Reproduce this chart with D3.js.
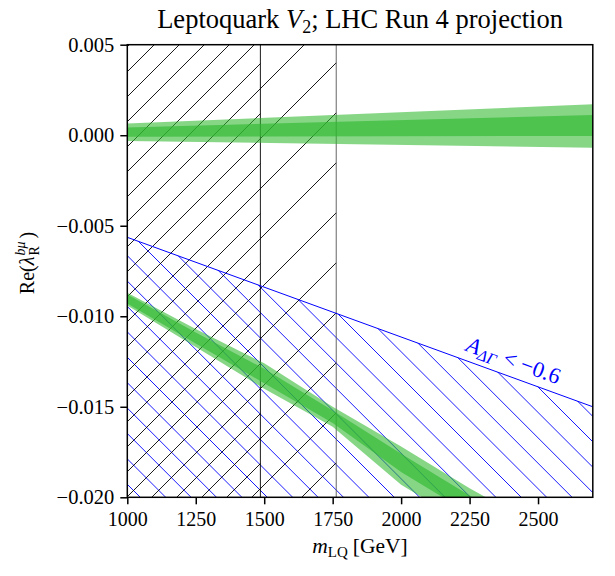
<!DOCTYPE html>
<html lang="en">

<head>
  <meta charset="utf-8">
  <title>Leptoquark V2; LHC Run 4 projection</title>

  <!-- D3 -->
  <script src="https://cdn.jsdelivr.net/npm/d3@7"></script>

  <style>
    body { margin: 0; background: #fff; }
    svg text { font-family: "Liberation Serif", "DejaVu Serif", serif; fill: #000; }
  </style>
</head>

<body>

  <!-- Chart -->
  <svg id="chart" width="615" height="576"></svg>

  <script>
    // axis ticks
    const xTicks = [1000, 1250, 1500, 1750, 2000, 2250, 2500];
    const yTicks = [0.005, 0.000, -0.005, -0.010, -0.015, -0.020];

    // direct search limits on m_LQ (hatched, black)
    const searchLimits = [1763, 1486];

    // A_DeltaGamma < -0.6 boundary (hatched below, blue)
    const adgMass = [1000, 2700];
    const adgBound = [-0.00564, -0.0150];

    // upper green band (near zero)
    const upMass = [1000, 2700];
    const upOuterHi = [0.00065, 0.00171];
    const upOuterLo = [-0.00032, -0.00069];
    const upInnerHi = [0.00043, 0.00112];
    const upInnerLo = [-0.00008, -0.00004];

    // lower green band
    const loMass = [1000, 1250, 1500, 1750, 2000, 2250, 2500];
    const loOuterHi = [-0.0087, -0.0107, -0.0126, -0.0150, -0.0172, -0.0195, -0.0216];
    const loOuterLo = [-0.0094, -0.0117, -0.0140, -0.0161, -0.0193, -0.0216, -0.0240];
    const loInnerHi = [-0.0088, -0.0109, -0.0129, -0.0152, -0.0176, -0.0199, -0.0221];
    const loInnerLo = [-0.0093, -0.0115, -0.0137, -0.0159, -0.0186, -0.0209, -0.0232];

    const margin = { left: 127.3, top: 44.7, right: 22.2, bottom: 78.7 };
    const width = 615 - margin.left - margin.right;
    const height = 576 - margin.top - margin.bottom;

    const svg = d3.select("#chart");

    const x = d3.scaleLinear().domain([1000, 2700]).range([0, width]);
    const y = d3.scaleLinear().domain([-0.020, 0.005]).range([height, 0]);

    const g = svg.append("g")
      .attr("transform", "translate(" + margin.left + "," + margin.top + ")");

    // clip paths
    const defs = svg.append("defs");
    defs.append("clipPath").attr("id", "clip-plot")
      .append("rect").attr("width", width).attr("height", height);
    searchLimits.forEach(function (m, i) {
      defs.append("clipPath").attr("id", "clip-search-" + i)
        .append("rect").attr("width", x(m)).attr("height", height);
    });
    defs.append("clipPath").attr("id", "clip-adg")
      .append("path")
      .attr("d", d3.area()
        .x(function (d, i) { return x(adgMass[i]); })
        .y0(height)
        .y1(function (d) { return y(d); })(adgBound));

    const plot = g.append("g").attr("clip-path", "url(#clip-plot)");

    // hatch lines "/" (u + v = c) and "\" (u - v = c)
    function hatch(sel, dir, step, offset, color) {
      const lines = [];
      const lo = dir > 0 ? 0 : -height;
      const hi = dir > 0 ? width + height : width;
      for (let c = offset + Math.floor((lo - offset) / step) * step; c <= hi + step; c += step) {
        lines.push(c);
      }
      sel.selectAll("line")
        .data(lines)
        .join("line")
        .attr("x1", function (c) { return c; })
        .attr("y1", 0)
        .attr("x2", function (c) { return dir > 0 ? c - height : c + height; })
        .attr("y2", height)
        .attr("stroke", color)
        .attr("stroke-width", 0.9);
    }

    // blue hatch below A_DeltaGamma boundary
    hatch(plot.append("g").attr("clip-path", "url(#clip-adg)"), -1, 25.4, 17.6, "#0000ff");

    // black hatch for search limits
    hatch(plot.append("g").attr("clip-path", "url(#clip-search-0)"), 1, 50, 27, "#000");
    hatch(plot.append("g").attr("clip-path", "url(#clip-search-1)"), 1, 50, 2, "#000");

    plot.selectAll(".search-line")
      .data(searchLimits)
      .join("line")
      .attr("class", "search-line")
      .attr("x1", function (d) { return x(d); })
      .attr("x2", function (d) { return x(d); })
      .attr("y1", 0)
      .attr("y2", height)
      .attr("stroke", function (d, i) { return i === 0 ? "#555" : "#000"; })
      .attr("stroke-width", 0.9);

    plot.append("path")
      .attr("d", d3.line()
        .x(function (d, i) { return x(adgMass[i]); })
        .y(function (d) { return y(d); })(adgBound))
      .attr("fill", "none")
      .attr("stroke", "#0000ff")
      .attr("stroke-width", 1);

    // green bands
    function band(mass, lo, hi, opacity) {
      plot.append("path")
        .attr("d", d3.area()
          .x(function (d, i) { return x(mass[i]); })
          .y0(function (d, i) { return y(lo[i]); })
          .y1(function (d) { return y(d); })(hi))
        .attr("fill", "#2fb82f")
        .attr("fill-opacity", opacity);
    }
    band(upMass, upOuterLo, upOuterHi, 0.58);
    band(upMass, upInnerLo, upInnerHi, 0.65);
    band(loMass, loOuterLo, loOuterHi, 0.58);
    band(loMass, loInnerLo, loInnerHi, 0.65);

    // A_DeltaGamma label, sitting above the boundary
    const ang = Math.atan2(y(adgBound[1]) - y(adgBound[0]), x(adgMass[1]) - x(adgMass[0])) * 180 / Math.PI;
    const labM = 2390;
    const labY = adgBound[0] + (adgBound[1] - adgBound[0]) * (labM - adgMass[0]) / (adgMass[1] - adgMass[0]);
    const lab = g.append("text")
      .attr("transform", "translate(" + x(labM) + "," + y(labY) + ") rotate(" + ang + ")")
      .attr("y", -9)
      .attr("text-anchor", "middle")
      .style("font-size", "22.5px")
      .style("fill", "#0000ff");
    lab.append("tspan").style("font-style", "italic").style("fill", "#0000ff").text("A");
    lab.append("tspan").attr("baseline-shift", "-25%").style("font-size", "16px").style("font-style", "italic")
      .style("fill", "#0000ff").text("ΔΓ");
    lab.append("tspan").attr("dx", 7).style("fill", "#0000ff").text("< −0.6");

    // axes
    const xAxis = g.append("g")
      .attr("transform", "translate(0," + height + ")")
      .call(d3.axisBottom(x).tickValues(xTicks).tickSize(7).tickPadding(6).tickFormat(d3.format("d")));
    const yAxis = g.append("g")
      .call(d3.axisLeft(y).tickValues(yTicks).tickSize(7).tickPadding(6)
        .tickFormat(function (d) { return d3.format(".3f")(d).replace("-", "−"); }));

    [xAxis, yAxis].forEach(function (a) {
      a.select(".domain").remove();
      a.selectAll(".tick line").attr("stroke", "#000").attr("stroke-width", 1.5);
      a.selectAll(".tick text").style("font-size", "20px").attr("fill", "#000");
    });
    xAxis.selectAll(".tick text").attr("dy", "0.78em");
    yAxis.selectAll(".tick text").style("font-size", "20.5px");

    g.append("rect")
      .attr("width", width)
      .attr("height", height)
      .attr("fill", "none")
      .attr("stroke", "#000")
      .attr("stroke-width", 1.5);

    // title
    const title = svg.append("text")
      .attr("x", margin.left + width / 2)
      .attr("y", 28)
      .attr("text-anchor", "middle")
      .style("font-size", "26.5px");
    title.append("tspan").text("Leptoquark ");
    title.append("tspan").style("font-style", "italic").text("V");
    title.append("tspan").attr("baseline-shift", "-25%").style("font-size", "18px").text("2");
    title.append("tspan").text("; LHC Run 4 projection");

    // x label
    const xLab = svg.append("text")
      .attr("x", margin.left + width / 2)
      .attr("y", 553)
      .attr("text-anchor", "middle")
      .style("font-size", "21.5px");
    xLab.append("tspan").style("font-style", "italic").text("m");
    xLab.append("tspan").attr("baseline-shift", "-25%").style("font-size", "15px").text("LQ");
    xLab.append("tspan").attr("dx", 5).text("[GeV]");

    // y label, built from pieces in a rotated group
    const yLab = svg.append("g");
    const yBase = yLab.append("text").style("font-size", "20px");
    yBase.append("tspan").text("Re(");
    yBase.append("tspan").style("font-style", "italic").text("λ");
    const w1 = yBase.node().getComputedTextLength();
    const ySup = yLab.append("text")
      .attr("x", w1 + 1).attr("y", -9)
      .style("font-size", "14px").style("font-style", "italic").text("bμ");
    const ySub = yLab.append("text")
      .attr("x", w1 + 1).attr("y", 5)
      .style("font-size", "14px").text("R");
    const w2 = Math.max(ySup.node().getComputedTextLength(), ySub.node().getComputedTextLength());
    const yClose = yLab.append("text")
      .attr("x", w1 + w2 + 4)
      .style("font-size", "20px").text(")");
    const wAll = w1 + w2 + 4 + yClose.node().getComputedTextLength();
    yLab.attr("transform", "translate(34," + (263 + wAll / 2) + ") rotate(-90)");
  </script>

</body>

</html>
